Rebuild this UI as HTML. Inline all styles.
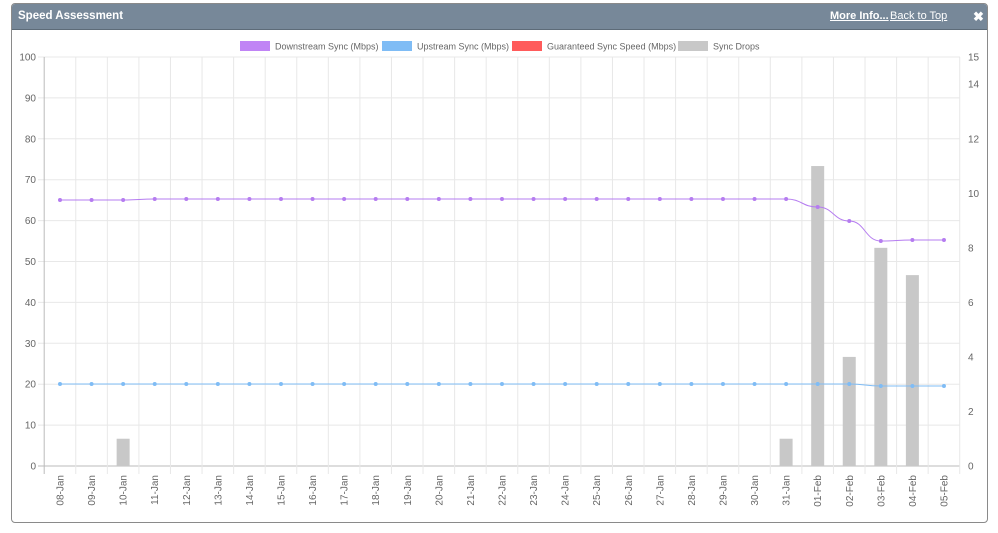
<!DOCTYPE html>
<html><head><meta charset="utf-8"><style>
body{margin:0;background:#fff;font-family:"Liberation Sans",Arial,sans-serif;}
#p{position:absolute;left:11px;top:3px;width:975px;height:518px;border:1px solid #8a8a8a;border-radius:4px;overflow:hidden;}
#h{height:25px;background:#778899;color:#fff;font-weight:bold;font-size:11.5px;line-height:25px;padding-left:6px;position:relative;border-bottom:1px solid #5d6b78}
#h .r{position:absolute;top:0;font-size:11px}
svg{position:absolute;left:0;top:0}
</style></head><body>
<div id="p"><div id="h">Speed Assessment
<span class="r" style="left:818px;text-decoration:underline">More Info...</span>
<span class="r" style="left:878px;text-decoration:underline;font-weight:normal">Back to Top</span>
<span class="r" style="left:961px;font-size:13px">✖</span></div></div>
<svg id="s" width="998" height="533" font-family="Liberation Sans, Arial, sans-serif" font-size="10" fill="#666"></svg>
<script>
var s='';
var lg=[[240,'#c084f5','Downstream Sync (Mbps)'],[382,'#7fbcf5','Upstream Sync (Mbps)'],[512,'#ff5b5b','Guaranteed Sync Speed (Mbps)'],[678,'#c8c8c8','Sync Drops']];
lg.forEach(function(l){s+='<rect x="'+l[0]+'" y="41" width="30" height="10" fill="'+l[1]+'"/><text x="'+(l[0]+35)+'" y="49.5" font-size="9">'+l[2]+'</text>';});
for(var v=0;v<=100;v+=10){var y=466-4.09*v;s+='<line x1="38" x2="960" y1="'+y+'" y2="'+y+'" stroke="'+(v==0?'#bbb':'#e8e8e8')+'"/><text x="36" y="'+(y+3.5)+'" text-anchor="end">'+v+'</text>';}
var rt=[0,2,4,6,8,10,12,14,15];rt.forEach(function(t){var y=466-27.27*t;s+='<text x="968" y="'+(y+3.5)+'">'+t+'</text>';});
for(var k=0;k<=29;k++){var x=44.2+31.57*k;s+='<line x1="'+x+'" x2="'+x+'" y1="57" y2="474" stroke="'+(k==0?'#bbb':'#e8e8e8')+'"/>';}
var labs=[];for(var d=8;d<=31;d++)labs.push((d<10?'0':'')+d+'-Jan');for(var d=1;d<=5;d++)labs.push('0'+d+'-Feb');
var X=function(i){return 60+31.57*i;};
var bars={2:1,23:1,24:11,25:4,26:8,27:7};
for(var i in bars){var h=27.27*bars[i];s+='<rect x="'+(X(+i)-6.5)+'" y="'+(466-h)+'" width="13" height="'+h+'" fill="#c8c8c8"/>';}
var dn=[],up=[];
for(var i=0;i<29;i++){var y=i<3?200:199;if(i==24)y=207;if(i==25)y=221;if(i==26)y=241;if(i>26)y=240;dn.push([X(i),y]);up.push([X(i),i>25?386:384]);}
function line(p,c){var d='M'+p[0][0]+','+p[0][1];for(var i=1;i<p.length;i++){var a=p[i-1],b=p[i],m=(b[0]-a[0])/2;d+=' C'+(a[0]+m)+','+a[1]+' '+(b[0]-m)+','+b[1]+' '+b[0]+','+b[1];}
s+='<path d="'+d+'" fill="none" stroke="'+c+'" stroke-width="1"/>';p.forEach(function(q){s+='<circle cx="'+q[0]+'" cy="'+q[1]+'" r="2" fill="'+c+'"/>';});}
line(dn,'#b57cf0');line(up,'#7fbcf5');
labs.forEach(function(l,i){var x=X(i)+3.5;s+='<text transform="translate('+x+',475) rotate(-90)" text-anchor="end">'+l+'</text>';});
document.getElementById('s').innerHTML=s;
</script>
</body></html>
